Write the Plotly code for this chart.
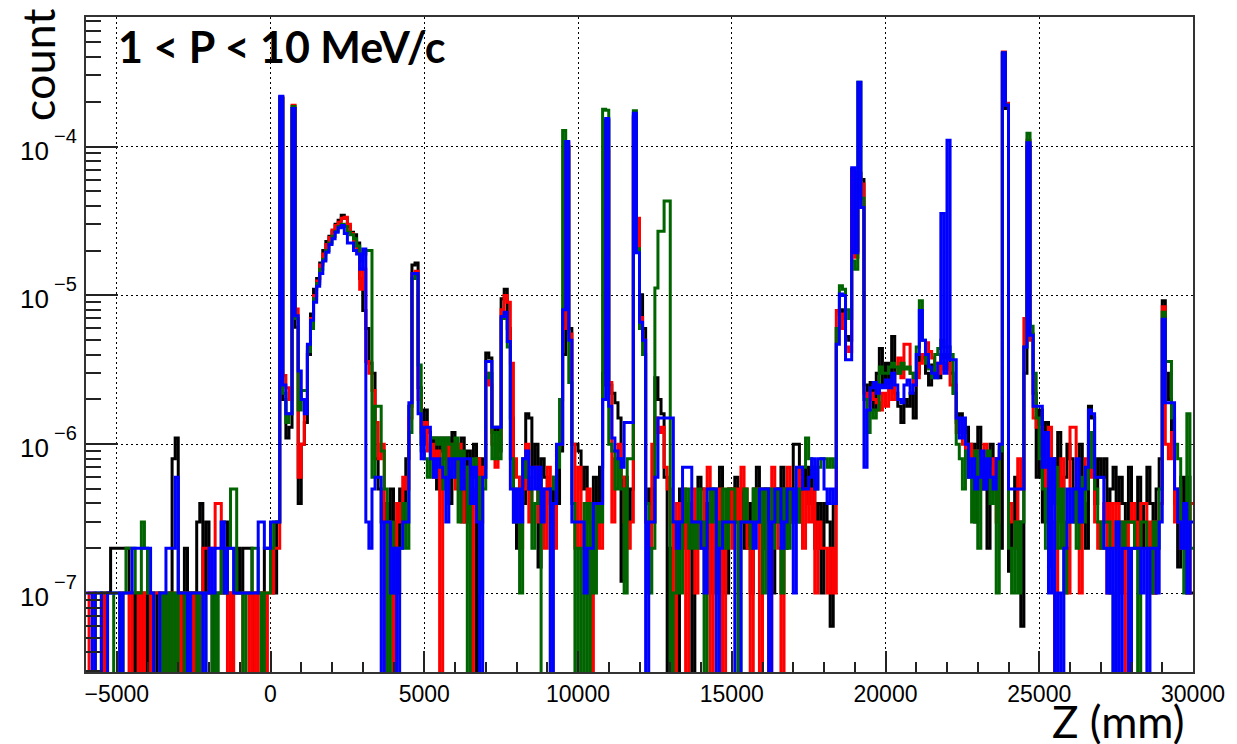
import numpy as np
import plotly.graph_objects as go

# Histogram binning along Z (mm)
Z_MIN, Z_MAX, BIN_W = -6000, 30000, 100
UNIT = 1e-7  # bin contents below are stored in units of 1e-7

# Bin contents, one row per 1000 mm (10 bins), starting at Z = -6000
black_counts = [
    0, 0, 0, 0, 0, 1, 0, 1, 2, 2,
    2, 2, 2, 2, 1, 0, 1, 0, 1, 0,
    1, 0, 0, 1, 0, 0, 0, 1, 8, 11,
    1, 0, 2, 1, 0, 1, 3, 4, 1, 3,
    1, 0, 1, 1, 3, 3, 1, 0, 1, 2,
    1, 2, 2, 2, 0, 1, 1, 0, 2, 2,
    2, 1, 3, 2100, 20, 11, 13, 1800, 61, 4,
    10, 14, 40, 75, 110, 130, 165, 200, 230, 250,
    270, 300, 320, 345, 330, 290, 265, 255, 225, 130,
    79, 60, 35, 30, 8, 5, 3, 4, 2, 5,
    3, 1, 5, 3, 8, 18, 160, 165, 24, 10,
    17, 12, 8, 11, 5, 11, 9, 11, 4, 12,
    10, 7, 11, 3, 9, 6, 10, 0, 8, 6,
    41, 38, 12, 13, 9, 95, 110, 60, 15, 3,
    2, 6, 4, 16, 15, 7, 10, 1.5, 8, 6,
    5, 3, 6, 4, 9, 40, 1000, 60, 10, 10,
    9, 5, 7, 3, 1, 6, 3, 7, 30, 1500,
    25, 22, 19, 15, 1.2, 6, 3, 5, 1600, 210,
    101, 60, 4, 5, 3, 28, 20, 16, 6, 0,
    2, 3, 0, 5, 3, 2, 4, 0, 3, 6,
    5, 2, 4, 1, 5, 3, 7, 3, 1, 5,
    3, 6, 3, 5, 2, 4, 1, 5, 7, 3,
    2, 5, 3, 1, 5, 3, 7, 2, 5, 3,
    10, 10, 3, 5, 7, 4, 7, 2, 4, 1,
    4, 3, 0.6, 4, 60, 80, 70, 53, 50, 700,
    200, 660, 600, 25, 20, 26, 17, 30, 44, 25,
    35, 24, 53, 22, 18, 14, 20, 18, 22, 15,
    30, 40, 38, 30, 25, 34, 30, 28, 40, 38,
    40, 30, 22, 14, 16, 12, 13, 7, 10, 3,
    13, 5, 8, 2, 10, 6, 8, 2, 4200, 1800,
    1.4, 3, 6, 3, 0.6, 30, 1000, 55, 22, 6,
    17, 3, 14, 1.5, 8, 5, 12, 3, 6, 10,
    8, 5, 3, 10, 4, 2, 18, 15, 4, 8,
    6, 8, 3, 5, 7, 4, 6, 4, 3, 7,
    3, 2, 6, 2, 4, 7, 4, 1, 5, 8,
    92, 30, 20, 10, 4, 1.5, 6, 3, 6, 1,
]

red_counts = [
    0, 1, 1, 0, 0, 0, 1, 0, 0, 0,
    0, 1, 0, 0, 1, 0, 0, 1, 0, 1,
    1, 0, 1, 1, 0, 1, 0, 1, 0, 1,
    0, 1, 1, 0, 1, 0, 1, 0, 2, 2,
    1, 2, 4, 4, 1, 2, 0, 1, 0, 0,
    0, 1, 1, 0, 1, 0, 1, 1, 0, 1,
    1, 2, 2, 2150, 29, 24, 20, 1890, 81, 6,
    10, 20, 45, 70, 100, 125, 160, 190, 220, 245,
    275, 295, 310, 330, 335, 300, 260, 230, 200, 110,
    150, 36, 30, 23, 14, 8, 10, 0, 3, 2,
    0, 4, 3, 6, 5, 15, 140, 145, 20, 12,
    14, 9, 10, 6, 9, 0, 8, 10, 7, 10,
    5, 10, 3, 7, 6, 0, 5, 8, 3, 7,
    30, 25, 10, 7, 11, 80, 100, 90, 35, 8,
    6, 2, 5, 10, 3, 6, 7, 3, 5, 2,
    7, 4, 2, 9, 10, 60, 1060, 55, 10, 2,
    7, 2, 3, 5, 0, 2, 4, 2, 25, 930,
    26, 3, 8, 10, 6, 3, 2, 3, 1550, 330,
    71, 50, 3, 2, 10, 15, 12, 13, 7, 5,
    3, 0, 4, 2, 5, 0, 3, 5, 1, 3,
    2, 5, 7, 0, 3, 2, 5, 0, 3, 5,
    2, 5, 3, 7, 5, 2, 0, 3, 5, 0,
    5, 3, 0, 7, 5, 2, 0, 5, 7, 3,
    3, 5, 7, 2, 5, 3, 5, 1, 3, 2,
    2, 1, 2, 1, 79, 75, 60, 45, 42, 680,
    180, 620, 560, 22, 18, 22, 20, 19, 17, 22,
    18, 25, 20, 30, 38, 28, 47, 47, 30, 25,
    28, 35, 40, 48, 42, 38, 35, 30, 35, 32,
    35, 25, 25, 12, 14, 10, 8, 10, 6, 9,
    5, 8, 10, 7, 6, 8, 3, 10, 4320, 1950,
    4, 3, 2, 8, 5, 70, 1100, 50, 15, 13,
    13, 12, 5, 13, 3, 0, 5, 8, 2, 1,
    13, 13, 3, 1, 5, 8, 10, 6, 3, 2,
    3, 4, 1, 4, 2, 4, 1, 3, 0, 3,
    4, 3, 2, 4, 4, 2, 3, 1, 3, 4,
    84, 10, 8, 12, 3, 5, 2, 3, 1, 4,
]

green_counts = [
    0, 0, 0, 1, 1, 1, 1, 0, 0, 1,
    1, 0, 1, 2, 2, 2, 1, 1, 3, 2,
    1, 1, 0, 0, 1, 0, 1, 0, 1, 0,
    1, 1, 0, 1, 1, 1, 0, 1, 1, 0,
    0, 1, 0, 1, 2, 1, 2, 5, 5, 1,
    1, 0, 1, 1, 2, 2, 1, 0, 1, 1,
    2, 3, 3, 2120, 22, 14, 16, 1860, 70, 17,
    23, 23, 42, 60, 95, 120, 150, 175, 200, 225,
    250, 270, 290, 300, 290, 265, 255, 240, 215, 170,
    190, 200, 200, 6, 18, 18, 9, 5, 0, 3,
    1, 2, 2, 4, 2, 12, 130, 135, 34, 9,
    8, 6, 11, 11, 10, 11, 5, 11, 10, 8,
    11, 3, 9, 7, 0, 6, 8, 6, 1, 5,
    28, 30, 8, 12, 8, 70, 75, 45, 8, 5,
    3, 1, 8, 6, 5, 2, 4, 6, 0, 0,
    0, 5, 6, 7, 20, 1280, 1000, 26, 4, 0,
    2, 0, 4, 0, 4, 1, 4, 3, 1780, 1750,
    10, 9, 5, 8, 5, 1, 8, 8, 1740, 206,
    60, 40, 4, 1, 2, 112, 270, 270, 430, 430,
    0, 1, 3, 1, 3, 5, 2, 3, 2, 5,
    3, 0, 3, 5, 3, 1, 3, 5, 2, 5,
    5, 3, 0, 3, 5, 3, 2, 5, 3, 5,
    1, 5, 5, 2, 3, 5, 1, 5, 2, 5,
    5, 3, 5, 7, 11, 8, 7, 5, 7, 8,
    8, 7, 8, 7, 60, 116, 110, 80, 70, 170,
    150, 2700, 450, 20, 12, 17, 15, 17, 33, 30,
    30, 33, 35, 33, 30, 35, 32, 33, 30, 28,
    45, 92, 50, 35, 32, 28, 40, 44, 50, 45,
    45, 40, 22, 10, 8, 5, 9, 6, 3, 9,
    2, 8, 7, 9, 4, 6, 1, 9, 4250, 1900,
    2, 1, 3, 1, 3, 45, 1230, 62, 30, 15,
    8, 5, 2, 6, 4, 7, 2, 5, 1, 3,
    3, 5, 2, 6, 3, 5, 12, 7, 5, 3,
    2, 3, 3, 1, 0, 3, 3, 2, 3, 3,
    3, 2, 0, 3, 3, 2, 1, 3, 2, 5,
    77, 36, 36, 15, 10, 8, 3, 1, 16, 2,
]

blue_counts = [
    1, 1, 0, 1, 1, 0, 0, 1, 1, 1,
    1, 0, 1, 1, 1, 2, 2, 2, 2, 2,
    2, 1, 0, 0, 1, 1, 2, 2, 2, 6,
    1, 1, 1, 0, 1, 1, 1, 1, 0, 1,
    2, 1, 2, 2, 3, 1, 2, 2, 1, 1,
    1, 1, 1, 1, 1, 1, 3, 3, 2, 2,
    3, 3, 3, 2180, 25, 16, 16, 1800, 73, 31,
    20, 16, 47, 68, 90, 115, 140, 170, 195, 220,
    240, 265, 285, 295, 260, 225, 225, 200, 190, 150,
    205, 3, 2, 5, 6, 6, 0, 3, 3, 1,
    2, 0, 2, 3, 3, 19, 140, 140, 16, 8,
    13, 13, 8, 6, 8, 7, 6, 3, 8, 6,
    8, 8, 5, 8, 8, 4, 7, 3, 0, 6,
    36, 36, 13, 13, 13, 72, 77, 49, 5, 3,
    5, 3, 8, 9, 5, 7, 5, 7, 3, 5,
    5, 0, 4, 10, 10, 80, 1080, 50, 3, 3,
    3, 3, 1, 2, 2, 4, 4, 4, 20, 1540,
    18, 11, 9, 8, 7, 14, 14, 14, 1670, 193,
    66, 50, 0, 3, 3, 6, 15, 15, 15, 15,
    15, 3, 2, 3, 7, 7, 7, 3, 3, 3,
    2, 1, 5, 5, 5, 0, 2, 3, 3, 3,
    3, 0, 0, 3, 3, 3, 3, 2, 3, 5,
    5, 5, 0, 3, 5, 5, 2, 3, 5, 5,
    1, 7, 7, 5, 5, 6, 8, 5, 8, 8,
    5, 4, 5, 4, 47, 102, 100, 37, 37, 720,
    193, 2700, 390, 7, 17, 24, 26, 22, 25, 24,
    27, 24, 30, 25, 20, 19, 25, 27, 22, 25,
    40, 79, 50, 40, 33, 30, 28, 35, 355, 30,
    1100, 37, 37, 15, 11, 15, 10, 6, 8, 5,
    6, 9, 5, 8, 6, 5, 8, 10, 4270, 1890,
    5, 5, 5, 5, 5, 45, 1060, 54, 18, 18,
    18, 7, 12, 1, 8, 0, 1, 0, 2, 5,
    3, 5, 8, 3, 5, 7, 17, 16, 6, 6,
    6, 2, 1, 2, 0, 3, 0, 2, 2, 0,
    2, 2, 2, 1, 2, 0, 2, 2, 1, 3,
    69, 19, 19, 19, 5, 3, 2, 4, 1, 3,
]

# Axis tick positions and labels
x_tick_vals = [-5000, 0, 5000, 10000, 15000, 20000, 25000, 30000]
x_tick_text = ["\u22125000", "0", "5000", "10000", "15000", "20000", "25000", "30000"]
y_decades = [-7, -6, -5, -4]          # log10 of the labelled y ticks
y_exponent_text = ["\u22127", "\u22126", "\u22125", "\u22124"]

Y_LOG_RANGE = [-7.53, -3.13]

edges = np.arange(Z_MIN, Z_MAX + BIN_W, BIN_W)
n_bins = len(edges) - 1

series = [
    (black_counts, "black"),
    (red_counts, "#ff0000"),
    (green_counts, "#006400"),
    (blue_counts, "#0000ff"),
]

fig = go.Figure()
for counts, colour in series:
    c = np.asarray(counts, dtype=float)
    assert len(c) == n_bins
    # empty bins fall below the log axis, so the outline drops to the floor
    y = np.where(c > 0, c * UNIT, 1e-12)
    y = np.append(y, y[-1])
    fig.add_trace(go.Scatter(
        x=edges, y=y, mode="lines",
        line=dict(shape="hv", width=3, color=colour),
        hoverinfo="skip", showlegend=False,
    ))

# decade minor ticks (2..9) inside the visible log range
y_minor = []
for d in range(-8, -2):
    for m in range(2, 10):
        v = m * 10.0 ** d
        if 10 ** Y_LOG_RANGE[0] < v < 10 ** Y_LOG_RANGE[1]:
            y_minor.append(v)

tick_font = dict(family="Liberation Sans, Arial, sans-serif", color="black")

fig.update_xaxes(
    range=[Z_MIN, Z_MAX],
    tickmode="array", tickvals=x_tick_vals, ticktext=x_tick_text,
    ticks="inside", ticklen=21, tickwidth=1.5, tickcolor="#222",
    tickfont=dict(size=23, **tick_font),
    minor=dict(tickmode="linear", tick0=0, dtick=1000, ticks="inside",
               ticklen=10, tickwidth=1.5, tickcolor="#222", showgrid=False),
    showgrid=True, gridcolor="black", gridwidth=1.2, griddash="2px,3px",
    showline=True, linecolor="#333", linewidth=2, mirror=True,
    zeroline=False, ticklabelstandoff=0,
)
fig.update_yaxes(
    type="log", range=Y_LOG_RANGE,
    tickmode="array", tickvals=[10.0 ** d for d in y_decades],
    showticklabels=False,
    ticks="inside", ticklen=32, tickwidth=1.5, tickcolor="#222",
    minor=dict(tickmode="array", tickvals=y_minor, ticks="inside",
               ticklen=15, tickwidth=1.5, tickcolor="#222", showgrid=False),
    showgrid=True, gridcolor="black", gridwidth=1.2, griddash="2px,3px",
    showline=True, linecolor="#333", linewidth=2, mirror=True,
    zeroline=False,
)

W, H = 1237, 744
L, R, T, B = 86, 41, 17, 72
pw, ph = W - L - R, H - T - B


def px_to_paper_x(x_px):
    return (x_px - L) / pw


def px_to_paper(x_px, y_px):
    return (x_px - L) / pw, (H - B - y_px) / ph


# y tick labels in power form: "10" with a raised exponent
for d, exp_txt in zip(y_decades, y_exponent_text):
    fig.add_annotation(
        x=px_to_paper_x(51), y=d, xref="paper", yref="y",
        xanchor="right", yanchor="middle", yshift=-4,
        text="10", showarrow=False,
        font=dict(size=26, **tick_font),
    )
    fig.add_annotation(
        x=px_to_paper_x(52), y=d, xref="paper", yref="y",
        xanchor="left", yanchor="middle", yshift=11,
        text=exp_txt, showarrow=False,
        font=dict(size=20, **tick_font),
    )

ax, ay = px_to_paper(116, 19)
fig.add_annotation(
    x=ax, y=ay, xref="paper", yref="paper", xanchor="left", yanchor="top",
    text="<b>1 &lt; P &lt; 10 MeV/c</b>", showarrow=False,
    font=dict(family="Lato", size=43, color="black"),
)
cx, cy = px_to_paper(38, 65)
fig.add_annotation(
    x=cx, y=cy, xref="paper", yref="paper", xanchor="center", yanchor="middle",
    text="count", textangle=-90, showarrow=False,
    font=dict(family="Lato", size=45, color="black"),
)
zx, zy = px_to_paper(1121, 721)
fig.add_annotation(
    x=zx, y=zy, xref="paper", yref="paper", xanchor="center", yanchor="middle",
    text="Z (mm)", showarrow=False,
    font=dict(family="Lato", size=44, color="black"),
)

fig.update_layout(
    width=W, height=H,
    margin=dict(l=L, r=R, t=T, b=B),
    paper_bgcolor="white", plot_bgcolor="white",
    showlegend=False,
)

fig.write_html("out.html")
